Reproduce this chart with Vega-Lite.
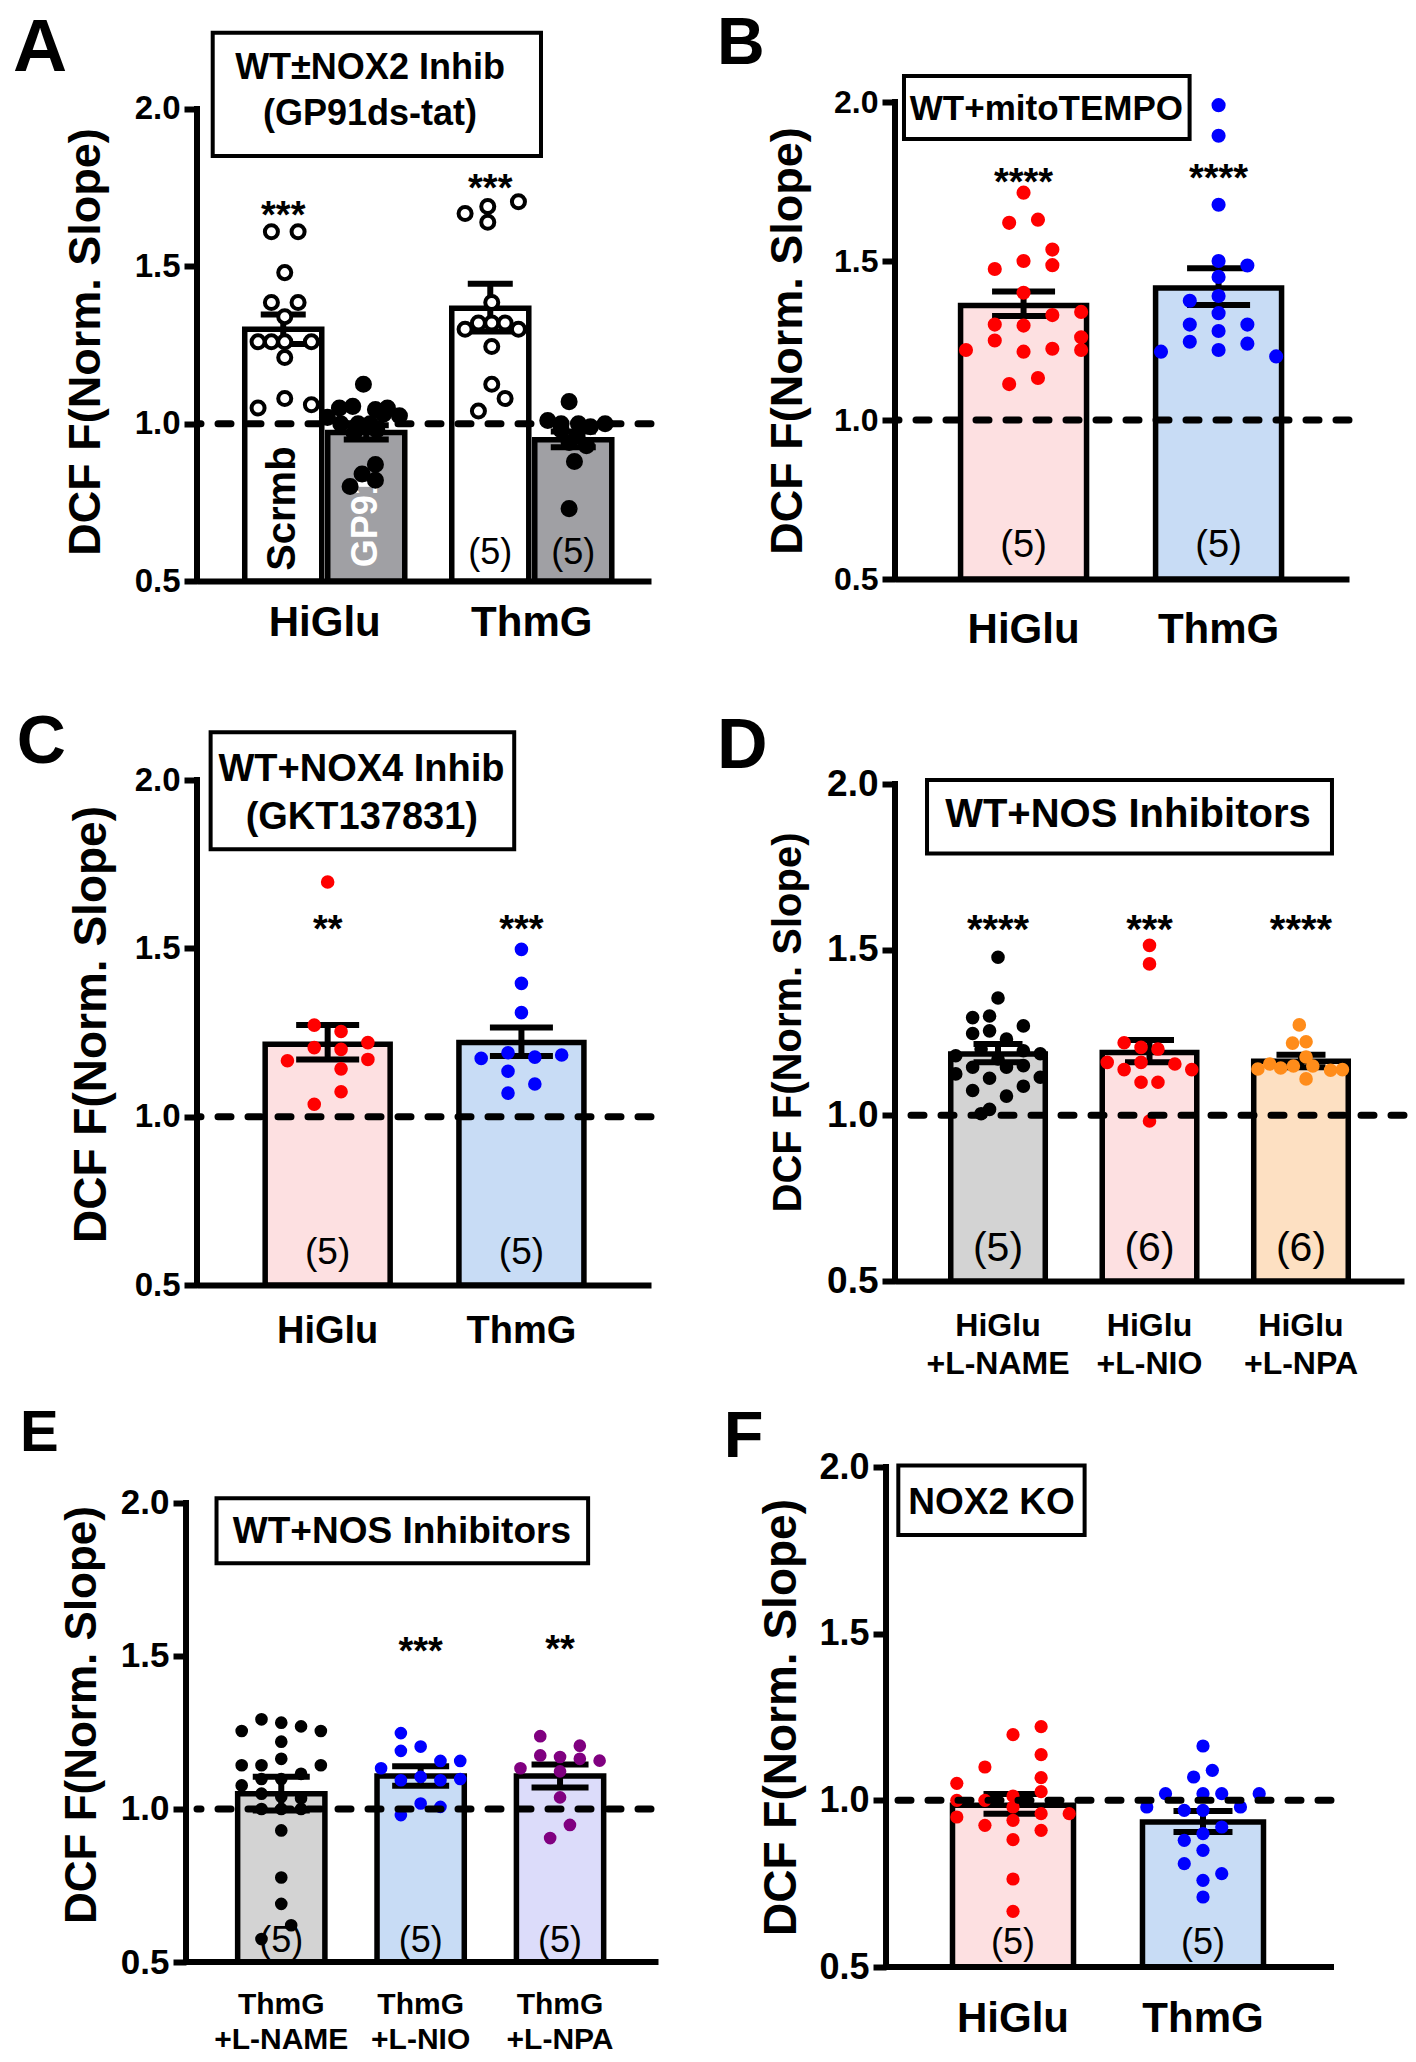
{
"$schema": "https://vega.github.io/schema/vega-lite/v6.json",
"background": "white",
"padding": {"left": 12, "top": 10, "right": 10, "bottom": 10},
"config": {
 "font": "Liberation Sans",
 "view": {"stroke": null},
 "axis": {"domainColor": "black", "domainWidth": 6, "tickColor": "black", "tickWidth": 6, "tickSize": 13, "labelColor": "black", "titleColor": "black", "labelFontWeight": "bold", "titleFontWeight": "bold", "grid": false, "labelFont": "Liberation Sans", "titleFont": "Liberation Sans"},
 "text": {"font": "Liberation Sans"}
},
"datasets": {
 "A_bars": [
  {"cond": "HiGlu", "treat": "Scrmb", "mean": 1.30, "lo": 1.253, "hi": 1.347, "stars": "***", "star_y": 1.69, "n": "", "inner": "Scrmb"},
  {"cond": "HiGlu", "treat": "GP91", "mean": 0.972, "lo": 0.95, "hi": 0.995, "stars": "", "star_y": 1.0, "n": "", "inner": "GP91"},
  {"cond": "ThmG", "treat": "Scrmb", "mean": 1.367, "lo": 1.293, "hi": 1.445, "stars": "***", "star_y": 1.775, "n": "(5)", "inner": ""},
  {"cond": "ThmG", "treat": "GP91", "mean": 0.949, "lo": 0.925, "hi": 0.975, "stars": "", "star_y": 1.0, "n": "(5)", "inner": ""}
 ],
 "A_pts": [
  {"cond": "HiGlu", "treat": "Scrmb", "v": 1.61, "s": -4}, {"cond": "HiGlu", "treat": "Scrmb", "v": 1.61, "s": -2},
  {"cond": "HiGlu", "treat": "Scrmb", "v": 1.48, "s": -3}, {"cond": "HiGlu", "treat": "Scrmb", "v": 1.385, "s": -4},
  {"cond": "HiGlu", "treat": "Scrmb", "v": 1.385, "s": -2}, {"cond": "HiGlu", "treat": "Scrmb", "v": 1.34, "s": -3},
  {"cond": "HiGlu", "treat": "Scrmb", "v": 1.26, "s": -5}, {"cond": "HiGlu", "treat": "Scrmb", "v": 1.26, "s": -4},
  {"cond": "HiGlu", "treat": "Scrmb", "v": 1.26, "s": -3}, {"cond": "HiGlu", "treat": "Scrmb", "v": 1.26, "s": -1},
  {"cond": "HiGlu", "treat": "Scrmb", "v": 1.21, "s": -3}, {"cond": "HiGlu", "treat": "Scrmb", "v": 1.05, "s": -5},
  {"cond": "HiGlu", "treat": "Scrmb", "v": 1.08, "s": -3}, {"cond": "HiGlu", "treat": "Scrmb", "v": 1.06, "s": -1},
  {"cond": "HiGlu", "treat": "GP91", "v": 1.125, "s": 2.9}, {"cond": "HiGlu", "treat": "GP91", "v": 1.05, "s": 1.1},
  {"cond": "HiGlu", "treat": "GP91", "v": 1.055, "s": 2.1}, {"cond": "HiGlu", "treat": "GP91", "v": 1.045, "s": 3.8},
  {"cond": "HiGlu", "treat": "GP91", "v": 1.05, "s": 4.7}, {"cond": "HiGlu", "treat": "GP91", "v": 1.02, "s": 0.2},
  {"cond": "HiGlu", "treat": "GP91", "v": 1.025, "s": 5.6}, {"cond": "HiGlu", "treat": "GP91", "v": 1.03, "s": 4.4},
  {"cond": "HiGlu", "treat": "GP91", "v": 1.0, "s": 1.2}, {"cond": "HiGlu", "treat": "GP91", "v": 1.0, "s": 2.5},
  {"cond": "HiGlu", "treat": "GP91", "v": 1.0, "s": 3.4}, {"cond": "HiGlu", "treat": "GP91", "v": 0.98, "s": 3.9},
  {"cond": "HiGlu", "treat": "GP91", "v": 0.97, "s": 2.2}, {"cond": "HiGlu", "treat": "GP91", "v": 0.87, "s": 3.8},
  {"cond": "HiGlu", "treat": "GP91", "v": 0.84, "s": 2.8}, {"cond": "HiGlu", "treat": "GP91", "v": 0.82, "s": 3.8},
  {"cond": "HiGlu", "treat": "GP91", "v": 0.80, "s": 1.9},
  {"cond": "ThmG", "treat": "Scrmb", "v": 1.668, "s": -5}, {"cond": "ThmG", "treat": "Scrmb", "v": 1.69, "s": -3.3},
  {"cond": "ThmG", "treat": "Scrmb", "v": 1.64, "s": -3.3}, {"cond": "ThmG", "treat": "Scrmb", "v": 1.705, "s": -1},
  {"cond": "ThmG", "treat": "Scrmb", "v": 1.385, "s": -3}, {"cond": "ThmG", "treat": "Scrmb", "v": 1.30, "s": -5},
  {"cond": "ThmG", "treat": "Scrmb", "v": 1.32, "s": -4}, {"cond": "ThmG", "treat": "Scrmb", "v": 1.32, "s": -3},
  {"cond": "ThmG", "treat": "Scrmb", "v": 1.32, "s": -2}, {"cond": "ThmG", "treat": "Scrmb", "v": 1.30, "s": -1},
  {"cond": "ThmG", "treat": "Scrmb", "v": 1.245, "s": -3}, {"cond": "ThmG", "treat": "Scrmb", "v": 1.125, "s": -3},
  {"cond": "ThmG", "treat": "Scrmb", "v": 1.08, "s": -2}, {"cond": "ThmG", "treat": "Scrmb", "v": 1.04, "s": -4},
  {"cond": "ThmG", "treat": "GP91", "v": 1.07, "s": 2.8}, {"cond": "ThmG", "treat": "GP91", "v": 1.01, "s": 1.2},
  {"cond": "ThmG", "treat": "GP91", "v": 1.0, "s": 2.2}, {"cond": "ThmG", "treat": "GP91", "v": 1.0, "s": 3.5},
  {"cond": "ThmG", "treat": "GP91", "v": 0.99, "s": 4.4}, {"cond": "ThmG", "treat": "GP91", "v": 1.0, "s": 5.5},
  {"cond": "ThmG", "treat": "GP91", "v": 0.98, "s": 2.2}, {"cond": "ThmG", "treat": "GP91", "v": 0.96, "s": 3.4},
  {"cond": "ThmG", "treat": "GP91", "v": 0.94, "s": 2.8}, {"cond": "ThmG", "treat": "GP91", "v": 0.93, "s": 4.1},
  {"cond": "ThmG", "treat": "GP91", "v": 0.88, "s": 3.2}, {"cond": "ThmG", "treat": "GP91", "v": 0.73, "s": 2.8}
 ],
 "B_bars": [
  {"cond": "HiGlu", "mean": 1.36, "lo": 1.327, "hi": 1.404, "stars": "****", "star_y": 1.775, "n": "(5)"},
  {"cond": "ThmG", "mean": 1.415, "lo": 1.362, "hi": 1.477, "stars": "****", "star_y": 1.785, "n": "(5)"}
 ],
 "B_pts": [
  {"cond": "HiGlu", "v": 1.715, "s": 0}, {"cond": "HiGlu", "v": 1.62, "s": -1}, {"cond": "HiGlu", "v": 1.63, "s": 1},
  {"cond": "HiGlu", "v": 1.536, "s": 2}, {"cond": "HiGlu", "v": 1.50, "s": 0}, {"cond": "HiGlu", "v": 1.475, "s": -2},
  {"cond": "HiGlu", "v": 1.487, "s": 2}, {"cond": "HiGlu", "v": 1.40, "s": 0}, {"cond": "HiGlu", "v": 1.30, "s": -2},
  {"cond": "HiGlu", "v": 1.33, "s": 2}, {"cond": "HiGlu", "v": 1.34, "s": 4}, {"cond": "HiGlu", "v": 1.297, "s": 0},
  {"cond": "HiGlu", "v": 1.25, "s": -2}, {"cond": "HiGlu", "v": 1.26, "s": 4}, {"cond": "HiGlu", "v": 1.22, "s": -4},
  {"cond": "HiGlu", "v": 1.215, "s": 0}, {"cond": "HiGlu", "v": 1.224, "s": 2}, {"cond": "HiGlu", "v": 1.22, "s": 4},
  {"cond": "HiGlu", "v": 1.113, "s": -1}, {"cond": "HiGlu", "v": 1.132, "s": 1},
  {"cond": "ThmG", "v": 1.99, "s": 0}, {"cond": "ThmG", "v": 1.894, "s": 0}, {"cond": "ThmG", "v": 1.677, "s": 0},
  {"cond": "ThmG", "v": 1.50, "s": 0}, {"cond": "ThmG", "v": 1.486, "s": 2}, {"cond": "ThmG", "v": 1.45, "s": 0},
  {"cond": "ThmG", "v": 1.375, "s": -2}, {"cond": "ThmG", "v": 1.39, "s": 0}, {"cond": "ThmG", "v": 1.336, "s": 0},
  {"cond": "ThmG", "v": 1.30, "s": -2}, {"cond": "ThmG", "v": 1.30, "s": 2}, {"cond": "ThmG", "v": 1.28, "s": 0},
  {"cond": "ThmG", "v": 1.246, "s": -2}, {"cond": "ThmG", "v": 1.24, "s": 2}, {"cond": "ThmG", "v": 1.215, "s": -4},
  {"cond": "ThmG", "v": 1.22, "s": 0}, {"cond": "ThmG", "v": 1.20, "s": 4}
 ],
 "C_bars": [
  {"cond": "HiGlu", "mean": 1.215, "lo": 1.17, "hi": 1.272, "stars": "**", "star_y": 1.581, "n": "(5)"},
  {"cond": "ThmG", "mean": 1.22, "lo": 1.18, "hi": 1.265, "stars": "***", "star_y": 1.581, "n": "(5)"}
 ],
 "C_pts": [
  {"cond": "HiGlu", "v": 1.697, "s": 0}, {"cond": "HiGlu", "v": 1.272, "s": -1}, {"cond": "HiGlu", "v": 1.253, "s": 1},
  {"cond": "HiGlu", "v": 1.22, "s": 3}, {"cond": "HiGlu", "v": 1.205, "s": -1}, {"cond": "HiGlu", "v": 1.20, "s": 1},
  {"cond": "HiGlu", "v": 1.166, "s": -3}, {"cond": "HiGlu", "v": 1.17, "s": 3}, {"cond": "HiGlu", "v": 1.142, "s": 1},
  {"cond": "HiGlu", "v": 1.074, "s": 1}, {"cond": "HiGlu", "v": 1.037, "s": -1},
  {"cond": "ThmG", "v": 1.497, "s": 0}, {"cond": "ThmG", "v": 1.396, "s": 0}, {"cond": "ThmG", "v": 1.309, "s": 0},
  {"cond": "ThmG", "v": 1.173, "s": -3}, {"cond": "ThmG", "v": 1.19, "s": -1}, {"cond": "ThmG", "v": 1.177, "s": 1},
  {"cond": "ThmG", "v": 1.183, "s": 3}, {"cond": "ThmG", "v": 1.135, "s": -1}, {"cond": "ThmG", "v": 1.097, "s": 1},
  {"cond": "ThmG", "v": 1.07, "s": -1}
 ],
 "D_bars": [
  {"cond": "HiGlu +L-NAME", "mean": 1.185, "lo": 1.16, "hi": 1.215, "stars": "****", "star_y": 1.59, "n": "(5)"},
  {"cond": "HiGlu +L-NIO", "mean": 1.19, "lo": 1.16, "hi": 1.227, "stars": "***", "star_y": 1.59, "n": "(6)"},
  {"cond": "HiGlu +L-NPA", "mean": 1.163, "lo": 1.145, "hi": 1.183, "stars": "****", "star_y": 1.59, "n": "(6)"}
 ],
 "D_pts": [
  {"cond": "HiGlu +L-NAME", "v": 1.477, "s": 0}, {"cond": "HiGlu +L-NAME", "v": 1.354, "s": 0},
  {"cond": "HiGlu +L-NAME", "v": 1.295, "s": -3}, {"cond": "HiGlu +L-NAME", "v": 1.30, "s": -1},
  {"cond": "HiGlu +L-NAME", "v": 1.27, "s": 3}, {"cond": "HiGlu +L-NAME", "v": 1.247, "s": -3},
  {"cond": "HiGlu +L-NAME", "v": 1.255, "s": -1}, {"cond": "HiGlu +L-NAME", "v": 1.23, "s": 1},
  {"cond": "HiGlu +L-NAME", "v": 1.20, "s": -2}, {"cond": "HiGlu +L-NAME", "v": 1.195, "s": 3},
  {"cond": "HiGlu +L-NAME", "v": 1.186, "s": 5}, {"cond": "HiGlu +L-NAME", "v": 1.18, "s": -5},
  {"cond": "HiGlu +L-NAME", "v": 1.17, "s": 0}, {"cond": "HiGlu +L-NAME", "v": 1.125, "s": -5},
  {"cond": "HiGlu +L-NAME", "v": 1.145, "s": -3}, {"cond": "HiGlu +L-NAME", "v": 1.112, "s": -1},
  {"cond": "HiGlu +L-NAME", "v": 1.145, "s": 1}, {"cond": "HiGlu +L-NAME", "v": 1.15, "s": 3},
  {"cond": "HiGlu +L-NAME", "v": 1.115, "s": 5}, {"cond": "HiGlu +L-NAME", "v": 1.075, "s": -3},
  {"cond": "HiGlu +L-NAME", "v": 1.058, "s": 1}, {"cond": "HiGlu +L-NAME", "v": 1.088, "s": 3},
  {"cond": "HiGlu +L-NAME", "v": 1.018, "s": -1}, {"cond": "HiGlu +L-NAME", "v": 1.005, "s": -2},
  {"cond": "HiGlu +L-NIO", "v": 1.513, "s": 0}, {"cond": "HiGlu +L-NIO", "v": 1.457, "s": 0},
  {"cond": "HiGlu +L-NIO", "v": 1.219, "s": -3}, {"cond": "HiGlu +L-NIO", "v": 1.205, "s": -1},
  {"cond": "HiGlu +L-NIO", "v": 1.20, "s": 1}, {"cond": "HiGlu +L-NIO", "v": 1.16, "s": -5},
  {"cond": "HiGlu +L-NIO", "v": 1.16, "s": -1}, {"cond": "HiGlu +L-NIO", "v": 1.155, "s": 3},
  {"cond": "HiGlu +L-NIO", "v": 1.138, "s": -3}, {"cond": "HiGlu +L-NIO", "v": 1.138, "s": 5},
  {"cond": "HiGlu +L-NIO", "v": 1.10, "s": -1}, {"cond": "HiGlu +L-NIO", "v": 1.10, "s": 1},
  {"cond": "HiGlu +L-NIO", "v": 0.983, "s": 0},
  {"cond": "HiGlu +L-NPA", "v": 1.273, "s": -0.2}, {"cond": "HiGlu +L-NPA", "v": 1.218, "s": -1},
  {"cond": "HiGlu +L-NPA", "v": 1.222, "s": 0.6}, {"cond": "HiGlu +L-NPA", "v": 1.176, "s": 0.6},
  {"cond": "HiGlu +L-NPA", "v": 1.14, "s": -5.1}, {"cond": "HiGlu +L-NPA", "v": 1.155, "s": -3.7},
  {"cond": "HiGlu +L-NPA", "v": 1.143, "s": -2.4}, {"cond": "HiGlu +L-NPA", "v": 1.149, "s": -0.9},
  {"cond": "HiGlu +L-NPA", "v": 1.149, "s": 1.4}, {"cond": "HiGlu +L-NPA", "v": 1.136, "s": 3.5},
  {"cond": "HiGlu +L-NPA", "v": 1.138, "s": 4.9}, {"cond": "HiGlu +L-NPA", "v": 1.11, "s": 0.6}
 ],
 "E_bars": [
  {"cond": "ThmG +L-NAME", "mean": 1.05, "lo": 0.995, "hi": 1.105, "stars": "", "star_y": 1.0, "n": "(5)"},
  {"cond": "ThmG +L-NIO", "mean": 1.108, "lo": 1.076, "hi": 1.14, "stars": "***", "star_y": 1.541, "n": "(5)"},
  {"cond": "ThmG +L-NPA", "mean": 1.108, "lo": 1.07, "hi": 1.145, "stars": "**", "star_y": 1.548, "n": "(5)"}
 ],
 "E_pts": [
  {"cond": "ThmG +L-NAME", "v": 1.293, "s": -2}, {"cond": "ThmG +L-NAME", "v": 1.282, "s": 0},
  {"cond": "ThmG +L-NAME", "v": 1.255, "s": -4}, {"cond": "ThmG +L-NAME", "v": 1.27, "s": 2},
  {"cond": "ThmG +L-NAME", "v": 1.255, "s": 4}, {"cond": "ThmG +L-NAME", "v": 1.22, "s": 0},
  {"cond": "ThmG +L-NAME", "v": 1.164, "s": 0}, {"cond": "ThmG +L-NAME", "v": 1.143, "s": -4},
  {"cond": "ThmG +L-NAME", "v": 1.143, "s": -2}, {"cond": "ThmG +L-NAME", "v": 1.143, "s": 4},
  {"cond": "ThmG +L-NAME", "v": 1.115, "s": 2}, {"cond": "ThmG +L-NAME", "v": 1.077, "s": -4},
  {"cond": "ThmG +L-NAME", "v": 1.098, "s": -2}, {"cond": "ThmG +L-NAME", "v": 1.098, "s": 0},
  {"cond": "ThmG +L-NAME", "v": 1.05, "s": -2}, {"cond": "ThmG +L-NAME", "v": 1.04, "s": 0},
  {"cond": "ThmG +L-NAME", "v": 1.035, "s": 2}, {"cond": "ThmG +L-NAME", "v": 1.0, "s": -2},
  {"cond": "ThmG +L-NAME", "v": 1.0, "s": 0}, {"cond": "ThmG +L-NAME", "v": 1.0, "s": 2},
  {"cond": "ThmG +L-NAME", "v": 0.93, "s": 0}, {"cond": "ThmG +L-NAME", "v": 0.776, "s": 0},
  {"cond": "ThmG +L-NAME", "v": 0.69, "s": 0}, {"cond": "ThmG +L-NAME", "v": 0.62, "s": 1},
  {"cond": "ThmG +L-NAME", "v": 0.575, "s": -2},
  {"cond": "ThmG +L-NIO", "v": 1.248, "s": -2}, {"cond": "ThmG +L-NIO", "v": 1.19, "s": -2},
  {"cond": "ThmG +L-NIO", "v": 1.204, "s": 0}, {"cond": "ThmG +L-NIO", "v": 1.133, "s": -4},
  {"cond": "ThmG +L-NIO", "v": 1.157, "s": 2}, {"cond": "ThmG +L-NIO", "v": 1.157, "s": 4},
  {"cond": "ThmG +L-NIO", "v": 1.094, "s": -2}, {"cond": "ThmG +L-NIO", "v": 1.105, "s": 0},
  {"cond": "ThmG +L-NIO", "v": 1.094, "s": 2}, {"cond": "ThmG +L-NIO", "v": 1.098, "s": 4},
  {"cond": "ThmG +L-NIO", "v": 1.018, "s": 0}, {"cond": "ThmG +L-NIO", "v": 1.007, "s": 2},
  {"cond": "ThmG +L-NIO", "v": 0.98, "s": -2},
  {"cond": "ThmG +L-NPA", "v": 1.238, "s": -2}, {"cond": "ThmG +L-NPA", "v": 1.207, "s": 2},
  {"cond": "ThmG +L-NPA", "v": 1.175, "s": -2}, {"cond": "ThmG +L-NPA", "v": 1.17, "s": 0},
  {"cond": "ThmG +L-NPA", "v": 1.164, "s": 2}, {"cond": "ThmG +L-NPA", "v": 1.158, "s": 4},
  {"cond": "ThmG +L-NPA", "v": 1.133, "s": -4}, {"cond": "ThmG +L-NPA", "v": 1.123, "s": 0},
  {"cond": "ThmG +L-NPA", "v": 1.038, "s": 0}, {"cond": "ThmG +L-NPA", "v": 0.948, "s": 1},
  {"cond": "ThmG +L-NPA", "v": 0.905, "s": -1}
 ],
 "F_bars": [
  {"cond": "HiGlu", "mean": 0.985, "lo": 0.96, "hi": 1.019, "n": "(5)"},
  {"cond": "ThmG", "mean": 0.935, "lo": 0.905, "hi": 0.968, "n": "(5)"}
 ],
 "F_pts": [
  {"cond": "HiGlu", "v": 1.221, "s": 3}, {"cond": "HiGlu", "v": 1.197, "s": 0}, {"cond": "HiGlu", "v": 1.137, "s": 3},
  {"cond": "HiGlu", "v": 1.10, "s": -3}, {"cond": "HiGlu", "v": 1.051, "s": -6}, {"cond": "HiGlu", "v": 1.068, "s": 3},
  {"cond": "HiGlu", "v": 1.013, "s": 0}, {"cond": "HiGlu", "v": 1.026, "s": 3}, {"cond": "HiGlu", "v": 1.0, "s": -6},
  {"cond": "HiGlu", "v": 1.0, "s": -3}, {"cond": "HiGlu", "v": 0.98, "s": 0}, {"cond": "HiGlu", "v": 0.95, "s": -6},
  {"cond": "HiGlu", "v": 0.94, "s": 0}, {"cond": "HiGlu", "v": 0.96, "s": 3}, {"cond": "HiGlu", "v": 0.96, "s": 6},
  {"cond": "HiGlu", "v": 0.925, "s": -3}, {"cond": "HiGlu", "v": 0.91, "s": 3}, {"cond": "HiGlu", "v": 0.882, "s": 0},
  {"cond": "HiGlu", "v": 0.764, "s": 0}, {"cond": "HiGlu", "v": 0.667, "s": 0},
  {"cond": "ThmG", "v": 1.163, "s": 0}, {"cond": "ThmG", "v": 1.09, "s": 1}, {"cond": "ThmG", "v": 1.07, "s": -1},
  {"cond": "ThmG", "v": 1.02, "s": -4}, {"cond": "ThmG", "v": 1.02, "s": 0}, {"cond": "ThmG", "v": 1.02, "s": 2},
  {"cond": "ThmG", "v": 1.02, "s": 6}, {"cond": "ThmG", "v": 0.98, "s": -6}, {"cond": "ThmG", "v": 0.98, "s": 4},
  {"cond": "ThmG", "v": 0.97, "s": -2}, {"cond": "ThmG", "v": 0.97, "s": 0}, {"cond": "ThmG", "v": 0.92, "s": 2},
  {"cond": "ThmG", "v": 0.90, "s": 0}, {"cond": "ThmG", "v": 0.88, "s": -2}, {"cond": "ThmG", "v": 0.85, "s": 0},
  {"cond": "ThmG", "v": 0.81, "s": -2}, {"cond": "ThmG", "v": 0.78, "s": 2}, {"cond": "ThmG", "v": 0.76, "s": 0},
  {"cond": "ThmG", "v": 0.71, "s": 0}
 ]
},
"columns": 2,
"spacing": {"row": 182, "column": 244},
"bounds": "flush",
"align": "none",
"resolve": {"scale": {"fill": "independent", "color": "independent", "xOffset": "independent"}},
"concat": [
 {
  "width": 454, "height": 479,
  "layer": [
   {
    "layer": [
     {
      "data": {"name": "A_bars"},
      "encoding": {
       "x": {"field": "cond", "type": "nominal", "scale": {"domain": ["HiGlu", "ThmG"], "paddingInner": 0.227, "paddingOuter": 0.21, "align": 0.549}, "axis": {"title": null, "labelAngle": 0, "labelFontSize": 42, "labelPadding": 21, "ticks": false}},
       "xOffset": {"field": "treat", "type": "nominal", "scale": {"domain": ["Scrmb", "GP91"], "paddingInner": 0.072, "paddingOuter": 0}}
      },
      "layer": [
       {"mark": {"type": "bar", "stroke": "black", "strokeWidth": 5.5},
        "encoding": {
         "y": {"field": "mean", "type": "quantitative", "scale": {"domain": [0.5, 2.0222], "nice": false, "zero": false}, "axis": {"values": [0.5, 1, 1.5, 2], "format": ".1f", "title": "DCF F(Norm. Slope)", "labelFontSize": 33, "titleFontSize": 45, "titlePadding": 26, "labelPadding": 4, "domain": false}},
         "y2": {"datum": 0.5},
         "fill": {"field": "treat", "type": "nominal", "scale": {"domain": ["Scrmb", "GP91"], "range": ["#ffffff", "#a0a0a4"]}, "legend": null}}},
       {"mark": {"type": "rule", "color": "black", "strokeWidth": 6},
        "encoding": {"y": {"field": "lo", "type": "quantitative"}, "y2": {"field": "hi"}}},
       {"mark": {"type": "tick", "color": "black", "thickness": 6, "size": 45, "opacity": 1, "orient": "horizontal"},
        "encoding": {"y": {"field": "hi", "type": "quantitative"}}},
       {"mark": {"type": "tick", "color": "black", "thickness": 6, "size": 45, "opacity": 1, "orient": "horizontal"},
        "encoding": {"y": {"field": "lo", "type": "quantitative"}}},
       {"mark": {"type": "text", "fontSize": 38, "fontWeight": "bold", "baseline": "middle", "dy": 10},
        "encoding": {"y": {"field": "star_y", "type": "quantitative"}, "text": {"field": "stars"}}},
       {"mark": {"type": "text", "fontSize": 36, "baseline": "middle"},
        "encoding": {"y": {"datum": 0.59}, "text": {"field": "n"}}},
       {"transform": [{"filter": "datum.inner === 'Scrmb'"}],
        "mark": {"type": "text", "fontSize": 40, "fontWeight": "bold", "angle": 270, "align": "center", "baseline": "middle", "color": "black"},
        "encoding": {"y": {"datum": 0.73}, "text": {"field": "inner"}}},
       {"transform": [{"filter": "datum.inner === 'GP91'"}],
        "mark": {"type": "text", "fontSize": 36, "fontWeight": "bold", "angle": 270, "align": "center", "baseline": "middle", "color": "white"},
        "encoding": {"y": {"datum": 0.69}, "text": {"field": "inner"}}}
      ]
     },
     {
      "data": {"name": "A_pts"},
      "mark": {"type": "point", "shape": "circle", "filled": true, "size": 170, "stroke": "black", "strokeWidth": 4, "opacity": 1},
      "encoding": {
       "x": {"field": "cond", "type": "nominal"},
       "xOffset": {"field": "s", "type": "quantitative", "scale": {"domain": [-6, 6], "nice": false, "zero": false}},
       "y": {"field": "v", "type": "quantitative"},
       "color": {"field": "treat", "type": "nominal", "scale": {"domain": ["Scrmb", "GP91"], "range": ["#ffffff", "#000000"]}, "legend": null}
      }
     },
     {
      "data": {"values": [{}]},
      "mark": {"type": "rule", "strokeDash": [13, 17], "strokeWidth": 7, "strokeCap": "round", "color": "black"},
      "encoding": {"y": {"datum": 1}}
     }
    ],
    "resolve": {"scale": {"xOffset": "independent"}}
   },
   {
    "data": {"values": [{}]},
    "layer": [
     {"mark": {"type": "rule", "color": "black", "strokeWidth": 6, "strokeCap": "square"},
      "encoding": {"x": {"datum": 0, "type": "quantitative", "scale": {"domain": [0, 1], "nice": false, "zero": false}, "axis": null}, "y": {"datum": 0.5, "type": "quantitative"}, "y2": {"datum": 2.0}}},
     {"mark": {"type": "rect", "fill": "white", "stroke": "black", "strokeWidth": 4},
      "encoding": {"x": {"datum": 0.0346, "type": "quantitative", "axis": null}, "x2": {"datum": 0.7577}, "y": {"datum": 2.2424, "type": "quantitative"}, "y2": {"datum": 1.8506}}},
     {"mark": {"type": "text", "text": "WT±NOX2 Inhib", "fontSize": 36, "fontWeight": "bold", "align": "center", "baseline": "alphabetic"},
      "encoding": {"x": {"datum": 0.3811, "type": "quantitative", "axis": null}, "y": {"datum": 2.0953, "type": "quantitative"}}},
     {"mark": {"type": "text", "text": "(GP91ds-tat)", "fontSize": 36, "fontWeight": "bold", "align": "center", "baseline": "alphabetic"},
      "encoding": {"x": {"datum": 0.3811, "type": "quantitative", "axis": null}, "y": {"datum": 1.9491, "type": "quantitative"}}},
     {"mark": {"type": "text", "text": "A", "fontSize": 75, "fontWeight": "bold", "align": "left", "baseline": "alphabetic"},
      "encoding": {"x": {"datum": -0.4053, "type": "quantitative", "axis": null}, "y": {"datum": 2.1207, "type": "quantitative"}}}
    ]
   }
  ],
  "resolve": {"scale": {"x": "independent"}}
 },
 {
  "width": 454, "height": 477,
  "layer": [
   {
    "layer": [
     {
      "data": {"name": "B_bars"},
      "encoding": {
       "x": {"field": "cond", "type": "nominal", "scale": {"domain": ["HiGlu", "ThmG"], "paddingInner": 0.354, "paddingOuter": 0.341, "align": 0.493}, "axis": {"title": null, "labelAngle": 0, "labelFontSize": 42, "labelPadding": 30, "ticks": false}}
      },
      "layer": [
       {"mark": {"type": "bar", "stroke": "black", "strokeWidth": 5.5},
        "encoding": {
         "y": {"field": "mean", "type": "quantitative", "scale": {"domain": [0.5, 2], "nice": false, "zero": false}, "axis": {"values": [0.5, 1, 1.5, 2], "format": ".1f", "title": "DCF F(Norm. Slope)", "labelFontSize": 32, "titleFontSize": 45, "titlePadding": 23, "labelPadding": 4, "domain": false}},
         "y2": {"datum": 0.5},
         "fill": {"field": "cond", "type": "nominal", "scale": {"domain": ["HiGlu", "ThmG"], "range": ["#fde0e1", "#c8dcf5"]}, "legend": null}}},
       {"mark": {"type": "rule", "color": "black", "strokeWidth": 6},
        "encoding": {"y": {"field": "lo", "type": "quantitative"}, "y2": {"field": "hi"}}},
       {"mark": {"type": "tick", "color": "black", "thickness": 6, "size": 63, "opacity": 1, "orient": "horizontal"},
        "encoding": {"y": {"field": "hi", "type": "quantitative"}}},
       {"mark": {"type": "tick", "color": "black", "thickness": 6, "size": 63, "opacity": 1, "orient": "horizontal"},
        "encoding": {"y": {"field": "lo", "type": "quantitative"}}}
      ]
     },
     {
      "data": {"name": "B_pts"},
      "mark": {"type": "circle", "size": 200, "opacity": 1},
      "encoding": {
       "x": {"field": "cond", "type": "nominal"},
       "xOffset": {"field": "s", "type": "quantitative", "scale": {"domain": [-4.375, 4.375], "nice": false, "zero": false}},
       "y": {"field": "v", "type": "quantitative"},
       "color": {"field": "cond", "type": "nominal", "scale": {"domain": ["HiGlu", "ThmG"], "range": ["#ff0000", "#0000ff"]}, "legend": null}
      }
     },
     {
      "data": {"values": [{}]},
      "mark": {"type": "rule", "strokeDash": [13, 17], "strokeWidth": 7, "strokeCap": "round", "color": "black"},
      "encoding": {"y": {"datum": 1}}
     },
     {
      "data": {"name": "B_bars"},
      "encoding": {"x": {"field": "cond", "type": "nominal"}},
      "layer": [
       {"mark": {"type": "text", "fontSize": 38, "fontWeight": "bold", "baseline": "middle", "dy": 10},
        "encoding": {"y": {"field": "star_y", "type": "quantitative"}, "text": {"field": "stars"}}},
       {"mark": {"type": "text", "fontSize": 38, "baseline": "middle"},
        "encoding": {"y": {"datum": 0.603}, "text": {"field": "n"}}}
      ]
     }
    ],
    "resolve": {"scale": {"xOffset": "independent"}}
   },
   {
    "data": {"values": [{}]},
    "layer": [
     {"mark": {"type": "rule", "color": "black", "strokeWidth": 6, "strokeCap": "square"},
      "encoding": {"x": {"datum": 0, "type": "quantitative", "scale": {"domain": [0, 1], "nice": false, "zero": false}, "axis": null}, "y": {"datum": 0.5, "type": "quantitative"}, "y2": {"datum": 2.0}}},
     {"mark": {"type": "rect", "fill": "white", "stroke": "black", "strokeWidth": 4},
      "encoding": {"x": {"datum": 0.0198, "type": "quantitative", "axis": null}, "x2": {"datum": 0.6489}, "y": {"datum": 2.0818, "type": "quantitative"}, "y2": {"datum": 1.8836}}},
     {"mark": {"type": "text", "text": "WT+mitoTEMPO", "fontSize": 35, "fontWeight": "bold", "align": "center", "baseline": "alphabetic"},
      "encoding": {"x": {"datum": 0.3335, "type": "quantitative", "axis": null}, "y": {"datum": 1.9443, "type": "quantitative"}}},
     {"mark": {"type": "text", "text": "B", "fontSize": 66, "fontWeight": "bold", "align": "left", "baseline": "alphabetic"},
      "encoding": {"x": {"datum": -0.392, "type": "quantitative", "axis": null}, "y": {"datum": 2.1195, "type": "quantitative"}}}
    ]
   }
  ],
  "resolve": {"scale": {"x": "independent"}}
 },
 {
  "width": 454, "height": 522,
  "layer": [
   {
    "layer": [
     {
      "data": {"name": "C_bars"},
      "encoding": {
       "x": {"field": "cond", "type": "nominal", "scale": {"domain": ["HiGlu", "ThmG"], "paddingInner": 0.355, "paddingOuter": 0.349, "align": 0.504}, "axis": {"title": null, "labelAngle": 0, "labelFontSize": 38, "labelPadding": 27, "ticks": false}}
      },
      "layer": [
       {"mark": {"type": "bar", "stroke": "black", "strokeWidth": 5.5},
        "encoding": {
         "y": {"field": "mean", "type": "quantitative", "scale": {"domain": [0.5, 2.0505], "nice": false, "zero": false}, "axis": {"values": [0.5, 1, 1.5, 2], "format": ".1f", "title": "DCF F(Norm. Slope)", "labelFontSize": 33, "titleFontSize": 46, "titlePadding": 19, "labelPadding": 4, "domain": false}},
         "y2": {"datum": 0.5},
         "fill": {"field": "cond", "type": "nominal", "scale": {"domain": ["HiGlu", "ThmG"], "range": ["#fde0e1", "#c8dcf5"]}, "legend": null}}},
       {"mark": {"type": "rule", "color": "black", "strokeWidth": 6},
        "encoding": {"y": {"field": "lo", "type": "quantitative"}, "y2": {"field": "hi"}}},
       {"mark": {"type": "tick", "color": "black", "thickness": 6, "size": 63, "opacity": 1, "orient": "horizontal"},
        "encoding": {"y": {"field": "hi", "type": "quantitative"}}},
       {"mark": {"type": "tick", "color": "black", "thickness": 6, "size": 63, "opacity": 1, "orient": "horizontal"},
        "encoding": {"y": {"field": "lo", "type": "quantitative"}}}
      ]
     },
     {
      "data": {"name": "C_pts"},
      "mark": {"type": "circle", "size": 185, "opacity": 1},
      "encoding": {
       "x": {"field": "cond", "type": "nominal"},
       "xOffset": {"field": "s", "type": "quantitative", "scale": {"domain": [-4.66, 4.66], "nice": false, "zero": false}},
       "y": {"field": "v", "type": "quantitative"},
       "color": {"field": "cond", "type": "nominal", "scale": {"domain": ["HiGlu", "ThmG"], "range": ["#ff0000", "#0000ff"]}, "legend": null}
      }
     },
     {
      "data": {"values": [{}]},
      "mark": {"type": "rule", "strokeDash": [13, 17], "strokeWidth": 7, "strokeCap": "round", "color": "black"},
      "encoding": {"y": {"datum": 1}}
     },
     {
      "data": {"name": "C_bars"},
      "encoding": {"x": {"field": "cond", "type": "nominal"}},
      "layer": [
       {"mark": {"type": "text", "fontSize": 38, "fontWeight": "bold", "baseline": "middle", "dy": 10},
        "encoding": {"y": {"field": "star_y", "type": "quantitative"}, "text": {"field": "stars"}}},
       {"mark": {"type": "text", "fontSize": 37, "baseline": "middle"},
        "encoding": {"y": {"datum": 0.595}, "text": {"field": "n"}}}
      ]
     }
    ],
    "resolve": {"scale": {"xOffset": "independent"}}
   },
   {
    "data": {"values": [{}]},
    "layer": [
     {"mark": {"type": "rule", "color": "black", "strokeWidth": 6, "strokeCap": "square"},
      "encoding": {"x": {"datum": 0, "type": "quantitative", "scale": {"domain": [0, 1], "nice": false, "zero": false}, "axis": null}, "y": {"datum": 0.5, "type": "quantitative"}, "y2": {"datum": 2.0}}},
     {"mark": {"type": "rect", "fill": "white", "stroke": "black", "strokeWidth": 4},
      "encoding": {"x": {"datum": 0.03, "type": "quantitative", "axis": null}, "x2": {"datum": 0.6987}, "y": {"datum": 2.142, "type": "quantitative"}, "y2": {"datum": 1.7942}}},
     {"mark": {"type": "text", "text": "WT+NOX4 Inhib", "fontSize": 38, "fontWeight": "bold", "align": "center", "baseline": "alphabetic"},
      "encoding": {"x": {"datum": 0.3623, "type": "quantitative", "axis": null}, "y": {"datum": 1.9964, "type": "quantitative"}}},
     {"mark": {"type": "text", "text": "(GKT137831)", "fontSize": 38, "fontWeight": "bold", "align": "center", "baseline": "alphabetic"},
      "encoding": {"x": {"datum": 0.363, "type": "quantitative", "axis": null}, "y": {"datum": 1.8548, "type": "quantitative"}}},
     {"mark": {"type": "text", "text": "C", "fontSize": 68, "fontWeight": "bold", "align": "left", "baseline": "alphabetic"},
      "encoding": {"x": {"datum": -0.3969, "type": "quantitative", "axis": null}, "y": {"datum": 2.0505, "type": "quantitative"}}}
    ]
   }
  ],
  "resolve": {"scale": {"x": "independent"}}
 },
 {
  "width": 509, "height": 518,
  "layer": [
   {
    "layer": [
     {
      "data": {"name": "D_bars"},
      "encoding": {
       "x": {"field": "cond", "type": "nominal", "scale": {"domain": ["HiGlu +L-NAME", "HiGlu +L-NIO", "HiGlu +L-NPA"], "paddingInner": 0.376, "paddingOuter": 0.368, "align": 0.5}, "axis": {"title": null, "labelAngle": 0, "labelFontSize": 32, "labelPadding": 29, "labelLineHeight": 38, "ticks": false, "labelExpr": "split(datum.label, ' ')"}}
      },
      "layer": [
       {"mark": {"type": "bar", "stroke": "black", "strokeWidth": 5.5},
        "encoding": {
         "y": {"field": "mean", "type": "quantitative", "scale": {"domain": [0.5, 2.0634], "nice": false, "zero": false}, "axis": {"values": [0.5, 1, 1.5, 2], "format": ".1f", "title": "DCF F(Norm. Slope)", "labelFontSize": 37, "titleFontSize": 40, "titlePadding": 18, "labelPadding": 4, "domain": false}},
         "y2": {"datum": 0.5},
         "fill": {"field": "cond", "type": "nominal", "scale": {"domain": ["HiGlu +L-NAME", "HiGlu +L-NIO", "HiGlu +L-NPA"], "range": ["#d3d3d3", "#fde0e1", "#fde0c2"]}, "legend": null}}},
       {"mark": {"type": "rule", "color": "black", "strokeWidth": 6},
        "encoding": {"y": {"field": "lo", "type": "quantitative"}, "y2": {"field": "hi"}}},
       {"mark": {"type": "tick", "color": "black", "thickness": 6, "size": 49, "opacity": 1, "orient": "horizontal"},
        "encoding": {"y": {"field": "hi", "type": "quantitative"}}},
       {"mark": {"type": "tick", "color": "black", "thickness": 6, "size": 49, "opacity": 1, "orient": "horizontal"},
        "encoding": {"y": {"field": "lo", "type": "quantitative"}}}
      ]
     },
     {
      "data": {"name": "D_pts"},
      "mark": {"type": "circle", "size": 185, "opacity": 1},
      "encoding": {
       "x": {"field": "cond", "type": "nominal"},
       "xOffset": {"field": "s", "type": "quantitative", "scale": {"domain": [-5.59, 5.59], "nice": false, "zero": false}},
       "y": {"field": "v", "type": "quantitative"},
       "color": {"field": "cond", "type": "nominal", "scale": {"domain": ["HiGlu +L-NAME", "HiGlu +L-NIO", "HiGlu +L-NPA"], "range": ["#000000", "#ff0000", "#ff8c1a"]}, "legend": null}
      }
     },
     {
      "data": {"values": [{}]},
      "mark": {"type": "rule", "strokeDash": [13, 17], "strokeWidth": 7, "strokeCap": "round", "color": "black"},
      "encoding": {"y": {"datum": 1}}
     },
     {
      "data": {"name": "D_bars"},
      "encoding": {"x": {"field": "cond", "type": "nominal"}},
      "layer": [
       {"mark": {"type": "text", "fontSize": 40, "fontWeight": "bold", "baseline": "middle", "dy": 11},
        "encoding": {"y": {"field": "star_y", "type": "quantitative"}, "text": {"field": "stars"}}},
       {"mark": {"type": "text", "fontSize": 41, "baseline": "middle"},
        "encoding": {"y": {"datum": 0.597}, "text": {"field": "n"}}}
      ]
     }
    ],
    "resolve": {"scale": {"xOffset": "independent"}}
   },
   {
    "data": {"values": [{}]},
    "layer": [
     {"mark": {"type": "rule", "color": "black", "strokeWidth": 6, "strokeCap": "square"},
      "encoding": {"x": {"datum": 0, "type": "quantitative", "scale": {"domain": [0, 1], "nice": false, "zero": false}, "axis": null}, "y": {"datum": 0.5, "type": "quantitative"}, "y2": {"datum": 2.0}}},
     {"mark": {"type": "rect", "fill": "white", "stroke": "black", "strokeWidth": 4},
      "encoding": {"x": {"datum": 0.0629, "type": "quantitative", "axis": null}, "x2": {"datum": 0.8585}, "y": {"datum": 2.0118, "type": "quantitative"}, "y2": {"datum": 1.7905}}},
     {"mark": {"type": "text", "text": "WT+NOS Inhibitors", "fontSize": 40, "fontWeight": "bold", "align": "center", "baseline": "alphabetic"},
      "encoding": {"x": {"datum": 0.4576, "type": "quantitative", "axis": null}, "y": {"datum": 1.8696, "type": "quantitative"}}},
     {"mark": {"type": "text", "text": "D", "fontSize": 70, "fontWeight": "bold", "align": "left", "baseline": "alphabetic"},
      "encoding": {"x": {"datum": -0.3497, "type": "quantitative", "axis": null}, "y": {"datum": 2.0489, "type": "quantitative"}}}
    ]
   }
  ],
  "resolve": {"scale": {"x": "independent"}}
 },
 {
  "width": 454, "height": 495,
  "layer": [
   {
    "layer": [
     {
      "data": {"name": "E_bars"},
      "encoding": {
       "x": {"field": "cond", "type": "nominal", "scale": {"domain": ["ThmG +L-NAME", "ThmG +L-NIO", "ThmG +L-NPA"], "paddingInner": 0.374, "paddingOuter": 0.3156, "align": 0.462}, "axis": {"title": null, "labelAngle": 0, "labelFontSize": 30, "labelPadding": 27, "labelLineHeight": 35, "ticks": false, "domain": false, "labelExpr": "split(datum.label, ' ')"}}
      },
      "layer": [
       {"mark": {"type": "bar", "stroke": "black", "strokeWidth": 5.5},
        "encoding": {
         "y": {"field": "mean", "type": "quantitative", "scale": {"domain": [0.5, 2.1176], "nice": false, "zero": false}, "axis": {"values": [0.5, 1, 1.5, 2], "format": ".1f", "title": "DCF F(Norm. Slope)", "labelFontSize": 35, "titleFontSize": 44, "titlePadding": 16, "labelPadding": 4, "domain": false, "offset": 11}},
         "y2": {"datum": 0.5},
         "fill": {"field": "cond", "type": "nominal", "scale": {"domain": ["ThmG +L-NAME", "ThmG +L-NIO", "ThmG +L-NPA"], "range": ["#d3d3d3", "#c8dcf5", "#dcdcfa"]}, "legend": null}}},
       {"mark": {"type": "rule", "color": "black", "strokeWidth": 6},
        "encoding": {"y": {"field": "lo", "type": "quantitative"}, "y2": {"field": "hi"}}},
       {"mark": {"type": "tick", "color": "black", "thickness": 6, "size": 57, "opacity": 1, "orient": "horizontal"},
        "encoding": {"y": {"field": "hi", "type": "quantitative"}}},
       {"mark": {"type": "tick", "color": "black", "thickness": 6, "size": 57, "opacity": 1, "orient": "horizontal"},
        "encoding": {"y": {"field": "lo", "type": "quantitative"}}}
      ]
     },
     {
      "data": {"name": "E_pts"},
      "mark": {"type": "circle", "size": 160, "opacity": 1},
      "encoding": {
       "x": {"field": "cond", "type": "nominal"},
       "xOffset": {"field": "s", "type": "quantitative", "scale": {"domain": [-4.41, 4.41], "nice": false, "zero": false}},
       "y": {"field": "v", "type": "quantitative"},
       "color": {"field": "cond", "type": "nominal", "scale": {"domain": ["ThmG +L-NAME", "ThmG +L-NIO", "ThmG +L-NPA"], "range": ["#000000", "#0000ff", "#800080"]}, "legend": null}
      }
     },
     {
      "data": {"values": [{}]},
      "mark": {"type": "rule", "strokeDash": [13, 17], "strokeWidth": 7, "strokeCap": "round", "color": "black"},
      "encoding": {"y": {"datum": 1}}
     },
     {
      "data": {"name": "E_bars"},
      "encoding": {"x": {"field": "cond", "type": "nominal"}},
      "layer": [
       {"mark": {"type": "text", "fontSize": 38, "fontWeight": "bold", "baseline": "middle", "dy": 10},
        "encoding": {"y": {"field": "star_y", "type": "quantitative"}, "text": {"field": "stars"}}},
       {"mark": {"type": "text", "fontSize": 36, "baseline": "middle"},
        "encoding": {"y": {"datum": 0.567}, "text": {"field": "n"}}}
      ]
     }
    ],
    "resolve": {"scale": {"xOffset": "independent"}}
   },
   {
    "data": {"values": [{}]},
    "layer": [
     {"mark": {"type": "rule", "color": "black", "strokeWidth": 6, "strokeCap": "square"},
      "encoding": {"x": {"datum": -0.0242, "type": "quantitative", "scale": {"domain": [0, 1], "nice": false, "zero": false}, "axis": null}, "y": {"datum": 0.5, "type": "quantitative"}, "y2": {"datum": 2.0}}},
     {"mark": {"type": "rule", "color": "black", "strokeWidth": 6, "strokeCap": "square"},
      "encoding": {"x": {"datum": -0.0242, "type": "quantitative", "axis": null}, "x2": {"datum": 1.0099}, "y": {"datum": 0.5, "type": "quantitative"}}},
     {"mark": {"type": "rect", "fill": "white", "stroke": "black", "strokeWidth": 4},
      "encoding": {"x": {"datum": 0.043, "type": "quantitative", "axis": null}, "x2": {"datum": 0.8615}, "y": {"datum": 2.0156, "type": "quantitative"}, "y2": {"datum": 1.8029}}},
     {"mark": {"type": "text", "text": "WT+NOS Inhibitors", "fontSize": 37, "fontWeight": "bold", "align": "center", "baseline": "alphabetic"},
      "encoding": {"x": {"datum": 0.4513, "type": "quantitative", "axis": null}, "y": {"datum": 1.8686, "type": "quantitative"}}},
     {"mark": {"type": "text", "text": "E", "fontSize": 58, "fontWeight": "bold", "align": "left", "baseline": "alphabetic"},
      "encoding": {"x": {"datum": -0.3901, "type": "quantitative", "axis": null}, "y": {"datum": 2.1699, "type": "quantitative"}}}
    ]
   }
  ],
  "resolve": {"scale": {"x": "independent"}}
 },
 {
  "width": 436, "height": 500,
  "layer": [
   {
    "layer": [
     {
      "data": {"name": "F_bars"},
      "encoding": {
       "x": {"field": "cond", "type": "nominal", "scale": {"domain": ["HiGlu", "ThmG"], "paddingInner": 0.363, "paddingOuter": 0.329, "align": 0.46}, "axis": {"title": null, "labelAngle": 0, "labelFontSize": 42, "labelPadding": 31, "ticks": false, "domain": false}}
      },
      "layer": [
       {"mark": {"type": "bar", "stroke": "black", "strokeWidth": 5.5},
        "encoding": {
         "y": {"field": "mean", "type": "quantitative", "scale": {"domain": [0.5, 2], "nice": false, "zero": false}, "axis": {"values": [0.5, 1, 1.5, 2], "format": ".1f", "title": "DCF F(Norm. Slope)", "labelFontSize": 36, "titleFontSize": 46, "titlePadding": 13, "labelPadding": 4, "domain": false, "offset": 9}},
         "y2": {"datum": 0.5},
         "fill": {"field": "cond", "type": "nominal", "scale": {"domain": ["HiGlu", "ThmG"], "range": ["#fde0e1", "#c8dcf5"]}, "legend": null}}},
       {"mark": {"type": "rule", "color": "black", "strokeWidth": 6},
        "encoding": {"y": {"field": "lo", "type": "quantitative"}, "y2": {"field": "hi"}}},
       {"mark": {"type": "tick", "color": "black", "thickness": 6, "size": 59, "opacity": 1, "orient": "horizontal"},
        "encoding": {"y": {"field": "hi", "type": "quantitative"}}},
       {"mark": {"type": "tick", "color": "black", "thickness": 6, "size": 59, "opacity": 1, "orient": "horizontal"},
        "encoding": {"y": {"field": "lo", "type": "quantitative"}}}
      ]
     },
     {
      "data": {"name": "F_pts"},
      "mark": {"type": "circle", "size": 175, "opacity": 1},
      "encoding": {
       "x": {"field": "cond", "type": "nominal"},
       "xOffset": {"field": "s", "type": "quantitative", "scale": {"domain": [-6.46, 6.46], "nice": false, "zero": false}},
       "y": {"field": "v", "type": "quantitative"},
       "color": {"field": "cond", "type": "nominal", "scale": {"domain": ["HiGlu", "ThmG"], "range": ["#ff0000", "#0000ff"]}, "legend": null}
      }
     },
     {
      "data": {"values": [{}]},
      "mark": {"type": "rule", "strokeDash": [13, 17], "strokeWidth": 7, "strokeCap": "round", "color": "black"},
      "encoding": {"y": {"datum": 1}}
     },
     {
      "data": {"name": "F_bars"},
      "mark": {"type": "text", "fontSize": 36, "baseline": "middle"},
      "encoding": {"x": {"field": "cond", "type": "nominal"}, "y": {"datum": 0.571}, "text": {"field": "n"}}
     }
    ],
    "resolve": {"scale": {"xOffset": "independent"}}
   },
   {
    "data": {"values": [{}]},
    "layer": [
     {"mark": {"type": "rule", "color": "black", "strokeWidth": 6, "strokeCap": "square"},
      "encoding": {"x": {"datum": -0.0206, "type": "quantitative", "scale": {"domain": [0, 1], "nice": false, "zero": false}, "axis": null}, "y": {"datum": 0.5, "type": "quantitative"}, "y2": {"datum": 2.0}}},
     {"mark": {"type": "rule", "color": "black", "strokeWidth": 6, "strokeCap": "square"},
      "encoding": {"x": {"datum": -0.0206, "type": "quantitative", "axis": null}, "x2": {"datum": 1.0}, "y": {"datum": 0.5, "type": "quantitative"}}},
     {"mark": {"type": "rect", "fill": "white", "stroke": "black", "strokeWidth": 4},
      "encoding": {"x": {"datum": 0.0076, "type": "quantitative", "axis": null}, "x2": {"datum": 0.4349}, "y": {"datum": 2.0042, "type": "quantitative"}, "y2": {"datum": 1.796}}},
     {"mark": {"type": "text", "text": "NOX2 KO", "fontSize": 37, "fontWeight": "bold", "align": "center", "baseline": "alphabetic"},
      "encoding": {"x": {"datum": 0.2213, "type": "quantitative", "axis": null}, "y": {"datum": 1.8602, "type": "quantitative"}}},
     {"mark": {"type": "text", "text": "F", "fontSize": 65, "fontWeight": "bold", "align": "left", "baseline": "alphabetic"},
      "encoding": {"x": {"datum": -0.3927, "type": "quantitative", "axis": null}, "y": {"datum": 2.03, "type": "quantitative"}}}
    ]
   }
  ],
  "resolve": {"scale": {"x": "independent"}}
 }
]
}
